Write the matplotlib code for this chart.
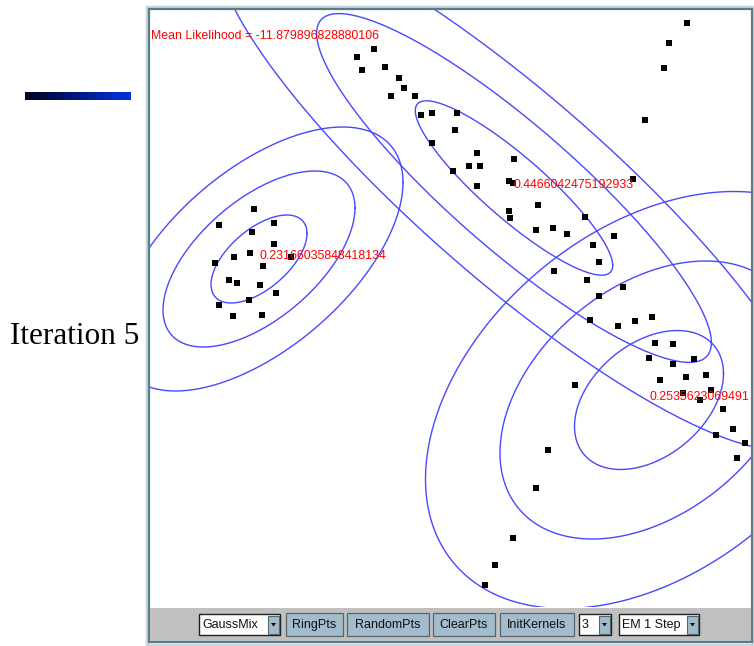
import numpy as np
import matplotlib
matplotlib.use("Agg")
import matplotlib.pyplot as plt
from matplotlib.patches import Rectangle, Polygon

W, H = 754, 646

# data points (pixel coordinates of the applet canvas)
pts_x = [357, 374, 362, 385, 399, 404, 391, 415, 421, 432, 432,
         687, 669, 664, 645, 457, 455, 477, 514,
         453, 469, 480, 477, 509, 513, 633, 538, 509, 510, 585, 536, 553, 567,
         614, 593, 599, 554, 587, 623, 599, 590, 618, 635, 652, 655, 673,
         649, 673, 694, 660, 686, 706, 575, 683, 711, 700, 723, 733, 716, 745, 737, 548,
         536, 513, 495, 485,
         254, 219, 274, 252, 274, 234, 250, 215, 291, 263, 229, 237, 260, 276, 249, 219, 233, 262]
pts_y = [57, 49, 70, 67, 78, 88, 96, 96, 115, 113, 143,
         23, 43, 68, 120, 113, 130, 153, 159,
         171, 166, 166, 186, 181, 183, 179, 205, 211, 218, 217, 230, 228, 234,
         236, 245, 262, 271, 280, 287, 296, 320, 326, 321, 317, 343, 344,
         358, 364, 359, 380, 377, 375, 385, 393, 390, 400, 409, 429, 435, 443, 458, 450,
         488, 538, 565, 585,
         209, 225, 223, 232, 244, 257, 253, 263, 257, 266, 280, 283, 285, 293, 300, 305, 316, 315]

# gaussian kernels after iteration 5
mean_x = [259, 514, 649]
mean_y = [259, 188, 400]
sd_x = [48, 98.7, 74.5]
sd_y = [44, 87.2, 69.5]
rho = [-0.58, 0.887, -0.38]
weight_labels = ["0.23166035848418134", "0.4466042475192933", "0.2535623069491"]
levels = [1, 2, 3]
mean_likelihood = "-11.879896828880106"

fig = plt.figure(figsize=(W / 100, H / 100), dpi=100)

# background: slide decoration and applet frame
bg = fig.add_axes([0, 0, 1, 1])
bg.set_xlim(0, W)
bg.set_ylim(H, 0)
bg.axis("off")

grad = np.linspace(0, 1, 256).reshape(1, -1)
left_c = np.array([0.0, 0.0, 0.12])
right_c = np.array([0.0, 0.2, 0.9])
grad_img = left_c[None, None, :] * (1 - grad[..., None]) + right_c[None, None, :] * grad[..., None]
bg.imshow(grad_img, extent=(25, 131, 100, 92), aspect="auto", zorder=1)
bg.text(10, 344, "Iteration 5", family="Liberation Serif", fontsize=22.5,
        va="baseline", ha="left", color="black")

bg.add_patch(Rectangle((146.5, 6.5), 606, 638, fill=False, ec="#c6d4dc", lw=2.5))
bg.add_patch(Rectangle((149, 9), 603, 633, facecolor="white", ec="#587c88", lw=1.6))
bg.add_patch(Rectangle((150, 607.5), 601, 33.5, facecolor="#c0c0c0", ec="none"))


def button(x0, x1, label):
    bg.add_patch(Rectangle((x0, 613), x1 - x0, 23, facecolor="#a3bccb", ec="#55656e", lw=0.9))
    bg.text((x0 + x1) / 2, 625, label, family="Liberation Sans", fontsize=9,
            ha="center", va="center", color="#101010")


def combo(x0, x1, label):
    bg.add_patch(Rectangle((x0, 614), x1 - x0, 21, facecolor="white", ec="#202020", lw=1.0))
    ax0 = x1 - 12
    bg.add_patch(Rectangle((ax0, 615.5), 11, 18, facecolor="#a3bccb", ec="#55656e", lw=0.8))
    cx = ax0 + 5.5
    bg.add_patch(Polygon([(cx - 2.5, 623), (cx + 2.5, 623), (cx, 626.5)], closed=True,
                         facecolor="black", ec="none"))
    bg.text(x0 + 3, 625, label, family="Liberation Sans", fontsize=9,
            ha="left", va="center", color="#101010")


combo(199, 280, "GaussMix")
button(286, 343, "RingPts")
button(347, 429, "RandomPts")
button(433, 495, "ClearPts")
button(500, 574, "InitKernels")
combo(579, 611, "3")
combo(619, 699, "EM 1 Step")

# canvas
ax = fig.add_axes([150 / W, 1 - 607 / H, 601 / W, 597 / H])
ax.set_xlim(150, 751)
ax.set_ylim(607, 10)
ax.axis("off")

t = np.linspace(0, 2 * np.pi, 400)
circle = np.vstack([np.cos(t), np.sin(t)])
for i in range(len(mean_x)):
    cov = np.array([[sd_x[i] ** 2, rho[i] * sd_x[i] * sd_y[i]],
                    [rho[i] * sd_x[i] * sd_y[i], sd_y[i] ** 2]])
    L = np.linalg.cholesky(cov)
    for k in levels:
        e = k * (L @ circle)
        ax.plot(mean_x[i] + e[0], mean_y[i] + e[1], color="#4848ff", lw=1.0)
    ax.text(mean_x[i], mean_y[i], weight_labels[i], color="red", fontsize=8.9,
            family="Liberation Sans", va="baseline", ha="left", clip_on=True, zorder=5)

ax.scatter(pts_x, pts_y, marker="s", s=14, color="black", linewidths=0, zorder=4)
ax.text(151, 39, "Mean Likelihood = " + mean_likelihood, color="red", fontsize=8.9,
        family="Liberation Sans", va="baseline", ha="left", zorder=5)

fig.savefig("out.png", dpi=100)
